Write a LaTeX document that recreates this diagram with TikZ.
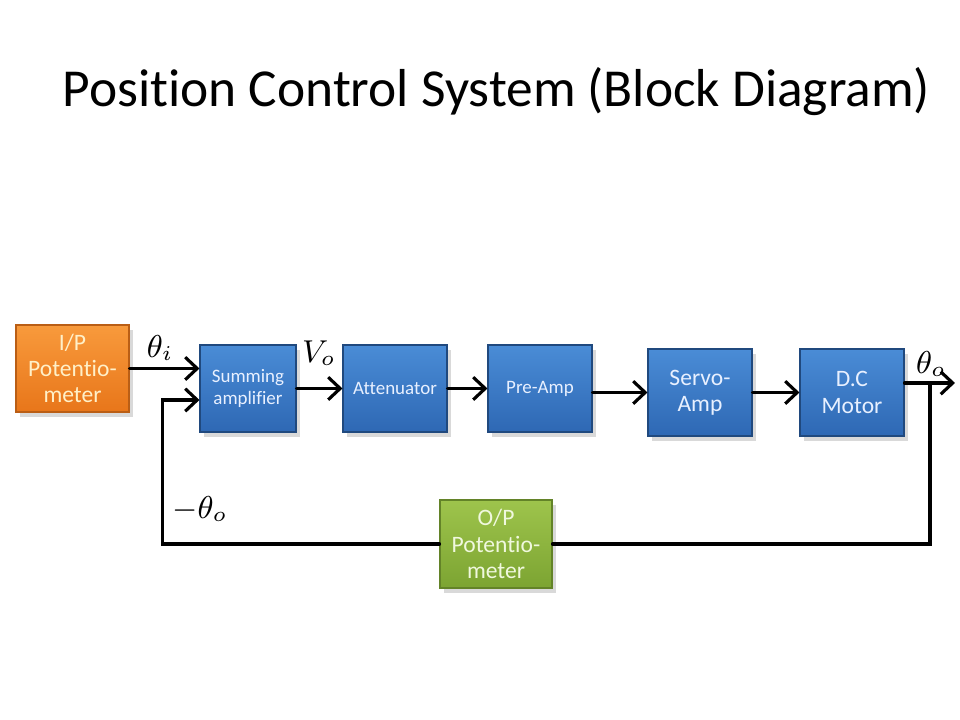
\documentclass[tikz,border=0pt]{standalone}
\usepackage{fontspec}
\setmainfont{Carlito}[Ligatures=NoCommon]
\usetikzlibrary{arrows.meta}
\usetikzlibrary{shadows}

\begin{document}
\begin{tikzpicture}[>={Straight Barb[length=3.4pt,width=6.4pt]},line cap=round,
  block/.style={rectangle,minimum height=0.87cm,align=center,inner sep=1pt,
    line width=0.3pt,drop shadow={shadow xshift=1.2pt,shadow yshift=-1.4pt,opacity=0.3}},
  blue block/.style={block,minimum width=1.04cm,draw=blockblue!70!black,top color=blocklight,bottom color=blockblue,text=blocktext},
  orange block/.style={block,minimum width=1.13cm,draw=blockorange!80!black,top color=orangelight,bottom color=blockorange,text=orangetext},
  green block/.style={block,minimum width=1.12cm,minimum height=0.88cm,draw=blockgreen!80!black,top color=greenlight,bottom color=blockgreen,text=greentext},
  big text/.style={font=\fontsize{6.7}{7.5}\selectfont},
  small text/.style={font=\fontsize{5.4}{6.3}\selectfont},
  signal line/.style={line width=0.9pt},
  signal label/.style={font=\fontsize{9}{10}\selectfont}]
 \definecolor{blockblue}{RGB}{46,104,180}
 \definecolor{blocklight}{RGB}{74,140,214}
 \definecolor{blocktext}{RGB}{232,240,255}
 \definecolor{blockorange}{RGB}{232,118,26}
 \definecolor{orangelight}{RGB}{248,154,60}
 \definecolor{orangetext}{RGB}{255,240,200}
 \definecolor{blockgreen}{RGB}{124,164,50}
 \definecolor{greenlight}{RGB}{158,196,76}
 \definecolor{greentext}{RGB}{240,248,222}

 \useasboundingbox (0,0) rectangle (9.6,7.2);

 \node[font=\fontsize{15.2}{18}\selectfont] (title) at (4.965,6.28) {Position Control System (Block Diagram)};

 % forward path
 \node[orange block,big text] (ip) at (0.725,3.515) {I/P\\Potentio-\\meter};
 \node[blue block,small text,minimum width=0.96cm] (sum) at (2.48,3.315) {Summing\\amplifier};
 \node[blue block,small text] (att) at (3.95,3.315) {Attenuator};
 \node[blue block,small text] (pre) at (5.40,3.315) {Pre-Amp};
 \node[blue block,big text] (servo) at (7.00,3.275) {Servo-\\Amp};
 \node[blue block,big text] (dc) at (8.52,3.275) {D.C\\Motor};

 % feedback path
 \node[green block,big text] (op) at (4.96,1.76) {O/P\\Potentio-\\meter};

 \coordinate (motorout) at ([yshift=0.95mm]dc.east);
 \coordinate (tap) at (9.30,0 |- motorout);
 \coordinate (out) at (9.55,0 |- motorout);
 \coordinate (fbin) at ([yshift=-1.15mm]sum.west);

 \draw[signal line,->] (ip.east) -- (ip.east -| sum.west);
 \draw[signal line,->] (sum) -- (att);
 \draw[signal line,->] (att) -- (pre);
 \draw[signal line,->] (pre.east |- servo) -- (servo.west);
 \draw[signal line,->] (servo) -- (dc);
 \draw[signal line,->] (motorout) -- (out);
 \draw[signal line] (tap) |- (op.east);
 \draw[signal line,->] (op.west) -| ([xshift=-3.7mm]fbin) -- (fbin);

 \node[signal label] (thetai) at (1.60,3.72) {$\theta_i$};
 \node[signal label] (vo) at (3.19,3.67) {$V_o$};
 \node[signal label] (thetao) at (9.31,3.56) {$\theta_o$};
 \node[signal label] (minusthetao) at (2.00,2.11) {$-\theta_o$};
\end{tikzpicture}
\end{document}
